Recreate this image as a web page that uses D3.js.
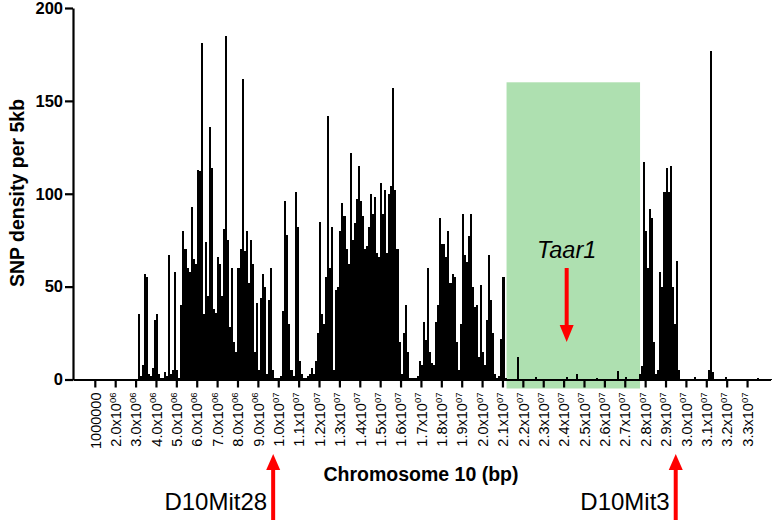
<!DOCTYPE html>
<html>
<head>
<meta charset="utf-8">
<script src="https://cdn.jsdelivr.net/npm/d3@7"></script>
<style>
  html, body { margin: 0; padding: 0; background: #fff; }
  svg { display: block; }
  text { font-family: Arial, "Liberation Sans", sans-serif; }
</style>
</head>
<body>
<svg id="chart" width="774" height="520"></svg>
<script>
// ---- data ----
const binSizeBp = 100000; // each value = SNP density (per 5kb) summarised over a 0.1 Mb window
const snpDensity = [
  0,0,0,0,0,0,0,0,0,0, 0,0,0,0,0,0,0,0,0,0, 0,0,0,0,0,0,0,0,0,0,
  0.5,35,2,8,57,55,3,2,6,32,
  35,3,1,1,4,2,67,3,5,58,
  5,1,40,80,70,60,58,93,65,62,
  113,112,181,35,74,45,136,114,38,36,
  66,62,45,81,185,75,28,60,20,15,
  60,70,162,69,80,52,75,62,15,41,
  5,44,57,50,3,43,60,5,1,1,
  1,2,37,96,78,30,5,2,101,82,
  10,3,1,1,2,3,6,3,10,25,
  85,35,30,55,142,60,82,5,48,50,
  80,95,88,70,62,122,75,84,97,115,
  96,88,70,72,82,100,89,98,68,66,
  106,89,102,68,100,104,157,102,70,20,
  3,25,40,15,1,1,1,1,2,10,
  8,31,21,60,15,9,8,31,40,87,
  73,73,66,80,52,57,55,20,5,30,
  89,67,63,77,89,50,39,40,12,51,
  15,8,32,67,43,25,3,1,2,22,
  55,1,0.5,0.5,0.5,0.5,0.5,12,0.5,0.5,
  0.5,0.5,0.5,0.5,0.5,0.5,1.5,0.5,0.5,0.5,
  0.5,0.5,0.5,0.5,0.5,0.5,0.5,0.5,0.5,0.5,
  0.5,1.5,0.5,0.5,0.5,0.5,2.7,0.5,0.5,0.5,
  0.5,0.5,0.5,0.5,0.5,0.5,1,0.5,0.5,0.5,
  0.5,0.5,0.5,0.5,0.5,0.5,4.5,0.5,0.5,0.5,
  1.5,0.5,0.5,0.5,0.5,0.5,0.5,3,7,117,
  80,60,92,87,20,3,5,58,50,101,
  114,101,115,50,30,64,5,0.5,0.5,0.5,
  0.5,0.5,0.5,0.5,1.5,0.5,0.5,0.5,0.5,0.5,
  0.5,5,177,4,0.5,0.5,0.5,0.5,0.5,1.5,
  0.5,0.5,0.5,0.5,0.5,0.5,0.5,0.5,0.5,0.5,
  0.5,0.5,0.5,0.5,0.5,1,0.5,0.5,0.5,0.5,
  0.5,0.5
];
const yTickValues = [0, 50, 100, 150, 200];
const xTickValues = [1e6,2e6,3e6,4e6,5e6,6e6,7e6,8e6,9e6,1e7,1.1e7,1.2e7,1.3e7,1.4e7,1.5e7,1.6e7,1.7e7,
  1.8e7,1.9e7,2.0e7,2.1e7,2.2e7,2.3e7,2.4e7,2.5e7,2.6e7,2.7e7,2.8e7,2.9e7,3.0e7,3.1e7,3.2e7,3.3e7];
const xTickLabels = ["1000000","2.0x10^06","3.0x10^06","4.0x10^06","5.0x10^06","6.0x10^06","7.0x10^06",
  "8.0x10^06","9.0x10^06","1.0x10^07","1.1x10^07","1.2x10^07","1.3x10^07","1.4x10^07","1.5x10^07",
  "1.6x10^07","1.7x10^07","1.8x10^07","1.9x10^07","2.0x10^07","2.1x10^07","2.2x10^07","2.3x10^07",
  "2.4x10^07","2.5x10^07","2.6x10^07","2.7x10^07","2.8x10^07","2.9x10^07","3.0x10^07","3.1x10^07",
  "3.2x10^07","3.3x10^07"];
const highlightRegion = { start: 21.2e6, end: 27.75e6, top: 160 };
const geneMarker = { label: "Taar1", pos: 24.15e6 };
const microsatellites = [
  { label: "D10Mit28", pos: 9.75e6 },
  { label: "D10Mit3", pos: 29.5e6 }
];
const xTitle = "Chromosome 10 (bp)";
const yTitle = "SNP density per 5kb";

// ---- chart ----
const svg = d3.select("#chart");
const x = d3.scaleLinear().domain([-70000, 34150000]).range([73, 770.5]);
const y = d3.scaleLinear().domain([0, 200]).range([379.5, 8]);
const axisLeftX = 73;
const red = "#ff0000";

// highlighted region
svg.append("rect")
  .attr("x", x(highlightRegion.start))
  .attr("y", y(highlightRegion.top))
  .attr("width", x(highlightRegion.end) - x(highlightRegion.start))
  .attr("height", y(0) - y(highlightRegion.top) + 9)
  .attr("fill", "#aee0b0");

// bars
svg.append("g").attr("shape-rendering", "crispEdges")
  .selectAll("rect").data(snpDensity).join("rect")
  .attr("x", (d, i) => x(i * binSizeBp))
  .attr("width", (d, i) => x((i + 1) * binSizeBp) - x(i * binSizeBp))
  .attr("y", d => y(d))
  .attr("height", d => y(0) - y(d))
  .attr("fill", "#000");

// y axis
const gy = svg.append("g").attr("transform", `translate(${axisLeftX},0)`)
  .call(d3.axisLeft(y).tickValues(yTickValues).tickSize(8).tickSizeOuter(0).tickPadding(2));
gy.select(".domain").attr("stroke-width", 2.2);
gy.selectAll(".tick line").attr("stroke-width", 2.2);
gy.selectAll(".tick text").attr("font-size", 16.5).attr("font-weight", "bold")
  .attr("font-family", "Arial, 'Liberation Sans', sans-serif").attr("fill", "#000");

// x axis
const gx = svg.append("g").attr("transform", `translate(0,${y(0)})`)
  .call(d3.axisBottom(x).tickValues(xTickValues).tickSize(8).tickSizeOuter(0));
gx.select(".domain").attr("stroke-width", 2.2);
gx.selectAll(".tick line").attr("stroke-width", 2.2);
gx.selectAll(".tick text").each(function(d, i) {
  const t = d3.select(this);
  t.text(null)
    .attr("transform", "rotate(-90)")
    .attr("text-anchor", "end")
    .attr("x", -13).attr("y", 0).attr("dy", "0.36em")
    .attr("font-size", 14.5)
    .attr("font-family", "Arial, 'Liberation Sans', sans-serif")
    .attr("fill", "#000");
  const parts = xTickLabels[i].split("^");
  t.append("tspan").text(parts[0]);
  if (parts[1]) {
    t.append("tspan").attr("font-size", 9.5).attr("dy", "-0.55em").text(parts[1]);
  }
});

// axis titles
svg.append("text")
  .attr("x", 421).attr("y", 481)
  .attr("text-anchor", "middle")
  .attr("font-size", 19.5).attr("font-weight", "bold")
  .text(xTitle);
svg.append("text")
  .attr("transform", "translate(24,193) rotate(-90)")
  .attr("text-anchor", "middle")
  .attr("font-size", 19.5).attr("font-weight", "bold")
  .text(yTitle);

// gene marker (Taar1)
const gxp = x(geneMarker.pos);
svg.append("text")
  .attr("x", gxp).attr("y", 258)
  .attr("text-anchor", "middle")
  .attr("font-size", 23.5).attr("font-style", "italic")
  .text(geneMarker.label);
svg.append("line")
  .attr("x1", gxp).attr("x2", gxp).attr("y1", 268).attr("y2", 327)
  .attr("stroke", red).attr("stroke-width", 4);
svg.append("path")
  .attr("d", `M${gxp - 7},325 L${gxp + 7},325 L${gxp},342 Z`)
  .attr("fill", red);

// microsatellite markers
microsatellites.forEach(m => {
  const mx = x(m.pos);
  svg.append("line")
    .attr("x1", mx).attr("x2", mx).attr("y1", 468).attr("y2", 520)
    .attr("stroke", red).attr("stroke-width", 4);
  svg.append("path")
    .attr("d", `M${mx - 7},470 L${mx + 7},470 L${mx},454 Z`)
    .attr("fill", red);
  svg.append("text")
    .attr("x", mx - 6).attr("y", 510)
    .attr("text-anchor", "end")
    .attr("font-size", 24)
    .text(m.label);
});
</script>
</body>
</html>
